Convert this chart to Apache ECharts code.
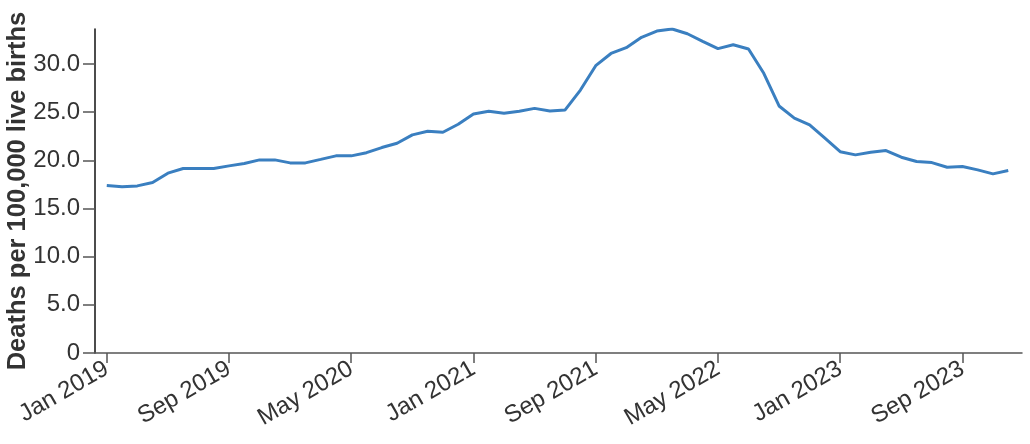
<!DOCTYPE html>
<html>
<head>
<meta charset="utf-8">
<script src="https://cdn.jsdelivr.net/npm/echarts@6/dist/echarts.min.js"></script>
<style>
  html, body { margin: 0; padding: 0; background: #fff; }
  #chart { width: 1030px; height: 444px; }
</style>
</head>
<body>
<div id="chart"></div>
<script>
// monthly rate, Jan 2019 .. Dec 2023
const monthNames = ['Jan', 'Feb', 'Mar', 'Apr', 'May', 'Jun', 'Jul', 'Aug', 'Sep', 'Oct', 'Nov', 'Dec'];
const startYear = 2019;

const rate2019 = [17.39, 17.25, 17.35, 17.7, 18.67, 19.15, 19.15, 19.15, 19.43, 19.67, 20.05, 20.05];
const rate2020 = [19.74, 19.74, 20.1, 20.47, 20.47, 20.8, 21.33, 21.78, 22.65, 23.03, 22.92, 23.75];
const rate2021 = [24.82, 25.1, 24.9, 25.1, 25.4, 25.13, 25.24, 27.3, 29.83, 31.1, 31.7, 32.78];
const rate2022 = [33.43, 33.64, 33.15, 32.36, 31.6, 32.0, 31.57, 29.04, 25.65, 24.38, 23.68, 22.3];
const rate2023 = [20.9, 20.57, 20.85, 21.02, 20.33, 19.88, 19.77, 19.29, 19.36, 19.01, 18.6, 18.94];

// x ticks every 8 months (index from Jan 2019)
const xTickIdx = [0, 8, 16, 24, 32, 40, 48, 56];
const yTicks = [0, 5, 10, 15, 20, 25, 30];

const rates = [].concat(rate2019, rate2020, rate2021, rate2022, rate2023);
const seriesData = rates.map((v, i) => [i, v]);

function monthLabel(i) {
  return monthNames[i % 12] + ' ' + (startYear + Math.floor(i / 12));
}

const textColor = '#333';
const fontFamily = '"Liberation Sans", Arial, sans-serif';

const chart = echarts.init(document.getElementById('chart'));
chart.setOption({
  animation: false,
  backgroundColor: '#fff',
  grid: {
    left: 95,
    top: 29,
    right: 8,
    bottom: 91,
    outerBoundsMode: 'none',
    containLabel: false
  },
  xAxis: {
    type: 'value',
    min: -0.77,
    max: 59.9,
    splitLine: { show: false },
    axisLine: { onZero: false, lineStyle: { color: '#555', width: 1.5 } },
    axisTick: {
      customValues: xTickIdx,
      length: 10,
      lineStyle: { color: '#555', width: 1.5 }
    },
    axisLabel: {
      customValues: xTickIdx,
      formatter: (v) => monthLabel(Math.round(v)),
      rotate: 30,
      margin: 14,
      color: textColor,
      fontSize: 24,
      fontFamily: fontFamily
    }
  },
  yAxis: {
    type: 'value',
    min: 0,
    max: Math.max(...rates),
    splitLine: { show: false },
    name: 'Deaths per 100,000 live births',
    nameLocation: 'middle',
    nameGap: 64,
    nameMoveOverlap: false,
    nameTextStyle: {
      color: textColor,
      fontSize: 25.5,
      fontWeight: 'bold',
      fontFamily: fontFamily
    },
    axisLine: { show: true, onZero: false, lineStyle: { color: '#111', width: 1.5 } },
    axisTick: {
      show: true,
      customValues: yTicks,
      length: 12,
      lineStyle: { color: '#555', width: 1.5 }
    },
    axisLabel: {
      customValues: yTicks,
      formatter: (v) => (v === 0 ? '0' : v.toFixed(1)),
      margin: 15,
      color: textColor,
      fontSize: 24,
      fontFamily: fontFamily
    }
  },
  series: [{
    type: 'line',
    data: seriesData,
    showSymbol: false,
    smooth: false,
    lineStyle: { color: '#3a7fc0', width: 3 },
    itemStyle: { color: '#3a7fc0' }
  }]
});
</script>
</body>
</html>
